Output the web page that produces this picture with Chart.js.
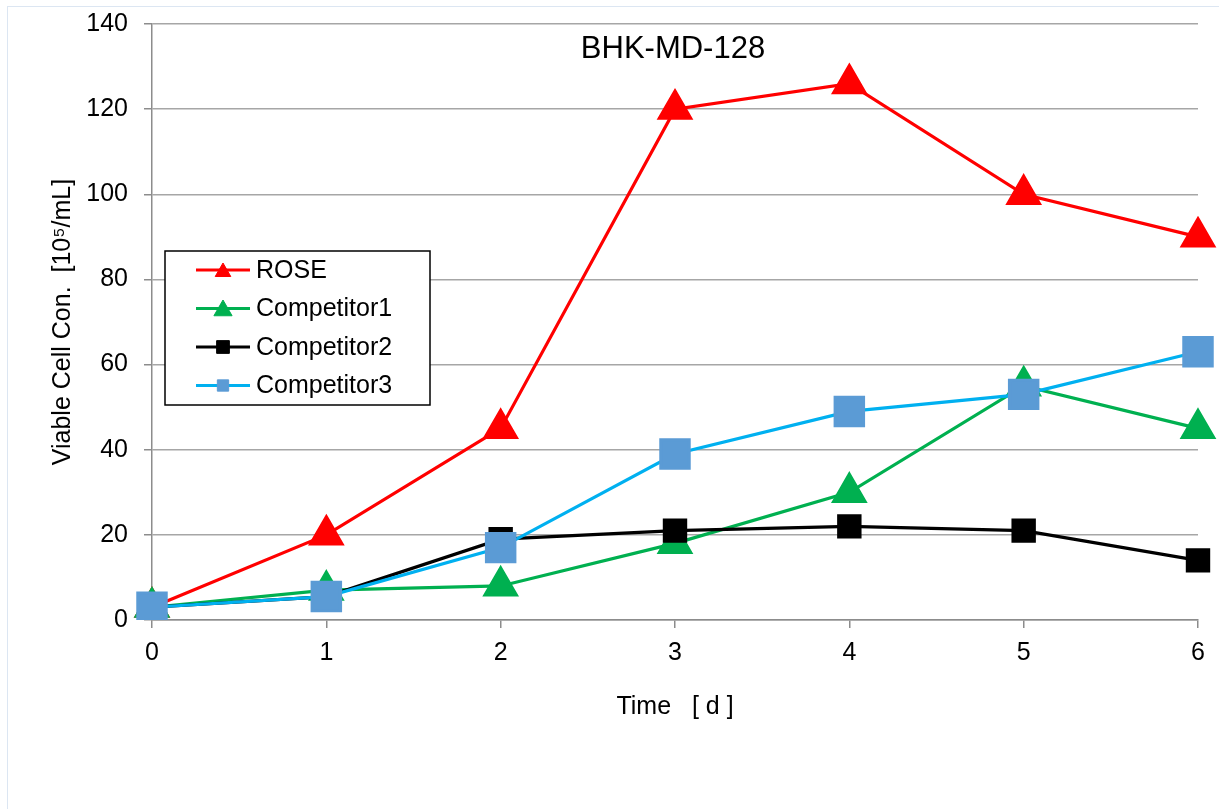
<!DOCTYPE html>
<html lang="en">
<head>
    <meta charset="UTF-8">
    <title>BHK-MD-128</title>
    <style>
        html, body { margin: 0; padding: 0; background: #fff; overflow: hidden; }
        #frame { position: absolute; left: 7px; top: 6px; width: 1400px; height: 1000px; border: 1px solid #dce6f2; }
        #wrap { position: absolute; left: 0; top: 0; width: 1219px; height: 809px; }
    </style>
    <script src="https://cdn.jsdelivr.net/npm/chart.js@4.4.1/dist/chart.umd.min.js"></script>
</head>
<body>
    <div id="frame"></div>
    <div id="wrap"><canvas id="chart" width="1219" height="809"></canvas></div>

    <script>
        // 数据
        const days = ['0', '1', '2', '3', '4', '5', '6'];
        const yTicks = [0, 20, 40, 60, 80, 100, 120, 140];
        const rose = [3, 20, 45, 120, 126, 100, 90];
        const competitor1 = [3, 7, 8, 18, 30, 55, 45];
        const competitor2 = [3, 5.5, 19, 21, 22, 21, 14];
        const competitor3 = [3, 5.5, 17, 39, 49, 53, 63];

        const FONT = '"Liberation Sans", Arial, sans-serif';

        // 图内标题
        const innerTitle = {
            id: 'innerTitle',
            afterDraw(chart) {
                const { ctx, chartArea } = chart;
                ctx.save();
                ctx.font = '31px ' + FONT;
                ctx.fillStyle = '#000';
                ctx.textAlign = 'center';
                ctx.textBaseline = 'middle';
                ctx.fillText('BHK-MD-128', (chartArea.left + chartArea.right) / 2 - 2, 49);
                ctx.restore();
            }
        };

        // 图例框（画在绘图区内）
        const boxLegend = {
            id: 'boxLegend',
            afterDatasetsDraw(chart) {
                const ctx = chart.ctx;
                const x = 165, y = 251, w = 265, h = 154;
                ctx.save();
                ctx.fillStyle = '#fff';
                ctx.fillRect(x, y, w, h);
                ctx.strokeStyle = '#000';
                ctx.lineWidth = 1.5;
                ctx.strokeRect(x, y, w, h);

                const sizes = [9, 10.5, 9, 8];
                chart.data.datasets.forEach((ds, i) => {
                    const cy = 270 + i * 38.5;
                    ctx.strokeStyle = ds.borderColor;
                    ctx.lineWidth = 3;
                    ctx.beginPath();
                    ctx.moveTo(196, cy);
                    ctx.lineTo(250, cy);
                    ctx.stroke();
                    ctx.fillStyle = ds.pointBackgroundColor;
                    ctx.strokeStyle = ds.pointBorderColor;
                    ctx.lineWidth = 1;
                    Chart.helpers.drawPoint(ctx, { pointStyle: ds.pointStyle, radius: sizes[i], rotation: 0, borderWidth: 1 }, 223, cy + (ds.pointStyle === 'triangle' ? 2 : 0));
                    ctx.fillStyle = '#000';
                    ctx.font = '25px ' + FONT;
                    ctx.textAlign = 'left';
                    ctx.textBaseline = 'middle';
                    ctx.fillText(ds.label, 256, cy + 1);
                });
                ctx.restore();
            }
        };

        new Chart(document.getElementById('chart').getContext('2d'), {
            type: 'line',
            data: {
                labels: days,
                datasets: [
                    {
                        label: 'ROSE', data: rose, order: 3,
                        borderColor: '#ff0000', backgroundColor: '#ff0000',
                        pointBackgroundColor: '#ff0000', pointBorderColor: '#ff0000',
                        pointStyle: 'triangle', pointRadius: 18, borderWidth: 3.2
                    },
                    {
                        label: 'Competitor1', data: competitor1, order: 2,
                        borderColor: '#00b050', backgroundColor: '#00b050',
                        pointBackgroundColor: '#00b050', pointBorderColor: '#00b050',
                        pointStyle: 'triangle', pointRadius: 18, borderWidth: 3.2
                    },
                    {
                        label: 'Competitor2', data: competitor2, order: 1,
                        borderColor: '#000000', backgroundColor: '#000000',
                        pointBackgroundColor: '#000000', pointBorderColor: '#000000',
                        pointStyle: 'rect', pointRadius: 15, borderWidth: 3.2
                    },
                    {
                        label: 'Competitor3', data: competitor3, order: 0,
                        borderColor: '#00b0f0', backgroundColor: '#5b9bd5',
                        pointBackgroundColor: '#5b9bd5', pointBorderColor: '#5b9bd5',
                        pointStyle: 'rect', pointRadius: 20, borderWidth: 3.2
                    }
                ]
            },
            options: {
                responsive: false,
                animation: false,
                devicePixelRatio: 1,
                layout: { autoPadding: false, padding: { left: 0, right: 21, top: 24, bottom: 69 } },
                elements: { line: { tension: 0 } },
                plugins: {
                    legend: { display: false },
                    title: { display: false },
                    tooltip: { enabled: false }
                },
                scales: {
                    x: {
                        type: 'category',
                        offset: false,
                        grid: { drawOnChartArea: false, drawTicks: true, tickLength: 8, color: '#8c8c8c', lineWidth: 1.5 },
                        border: { color: '#8c8c8c', width: 1.5 },
                        ticks: { color: '#000', padding: 10, font: { family: FONT, size: 25 }, maxRotation: 0 },
                        title: { display: true, text: 'Time   [ d ]', color: '#000', font: { family: FONT, size: 25 }, padding: { top: 0, bottom: 18 } },
                        afterFit(scale) {
                            scale.height = 120;
                            scale.paddingLeft = 0;
                            scale.paddingRight = 0;
                        }
                    },
                    y: {
                        min: 0, max: 140,
                        afterBuildTicks(scale) { scale.ticks = yTicks.map(v => ({ value: v })); },
                        grid: { color: '#a6a6a6', lineWidth: 1.5, tickLength: 8, tickColor: '#8c8c8c' },
                        border: { color: '#8c8c8c', width: 1.5 },
                        ticks: { color: '#000', padding: 16, font: { family: FONT, size: 25 } },
                        title: { display: true, text: 'Viable Cell Con.  [10⁵/mL]', color: '#000', font: { family: FONT, size: 25 }, padding: { top: 48, bottom: 0 } },
                        afterFit(scale) {
                            scale.width = 152;
                            scale.paddingTop = 0;
                            scale.paddingBottom = 0;
                        }
                    }
                }
            },
            plugins: [innerTitle, boxLegend]
        });
    </script>
</body>
</html>
